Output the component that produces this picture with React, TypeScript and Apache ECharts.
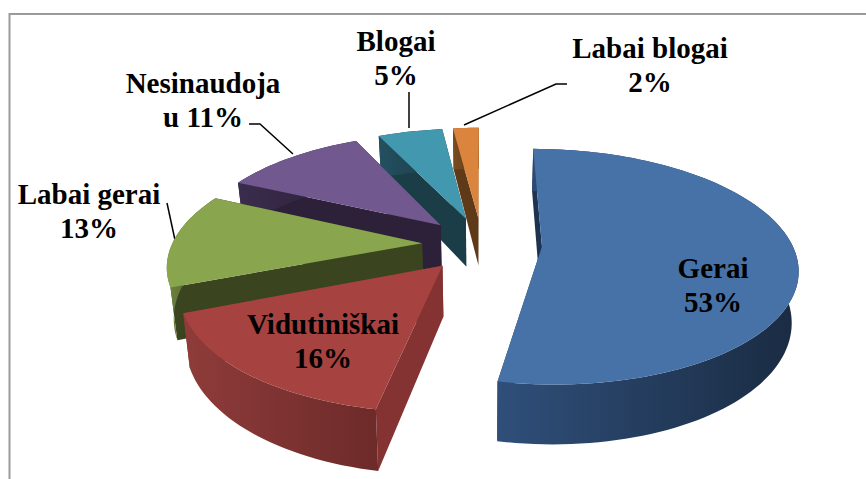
import React, { useEffect, useRef } from "react";
import * as echarts from "echarts";

const categories = ["Gerai", "Vidutiniškai", "Labai gerai", "Nesinaudoja\nu", "Blogai", "Labai blogai"];
const percentages = [53, 16, 13, 11, 5, 2];
const separators = ["\n", "\n", "\n", " ", "\n", "\n"];

const topColors = ["#4672A8", "#A64240", "#89A54E", "#71588F", "#4198AF", "#DB843D"];
const radialColors = ["#1D3350", "#843332", "#3A4520", "#2C2139", "#1B3D48", "#5E3A18"];
const wallLeftColors = ["#2F4F7A", "#8F3C3A", "#6F863E", "#3A2C4C", "#245060", "#7A4C20"];
const wallRightColors = ["#1A2B42", "#6C2A29", "#3A4520", "#2C2139", "#1B3D48", "#5E3A18"];

// Layout of the data labels: [centre x, centre y]
const labelCentres: number[][] = [
  [713, 285],
  [323, 341],
  [89, 211],
  [203, 100],
  [396, 58],
  [650, 65],
];
const leaderLines: number[][][] = [
  [[409, 92], [409, 128]],
  [[249, 124], [260, 124], [293, 154]],
  [[167, 203], [175, 240]],
  [[567, 84], [556, 84], [464, 125]],
];

const CX = 482, CY = 244, RX = 250, RY = 113.5, PERSP = 0.17, DEPTH = 49.5, EXPLODE = 0.24, BOTTOM_SHRINK = 0.022;

function project(x: number, z: number, h: number) {
  const w = 1 - PERSP * z;
  return [CX + ((x * RX) / w) * (1 - BOTTOM_SHRINK * h), CY + (z * RY) / w + (h * DEPTH) / w];
}

function renderSlice(params: any, api: any) {
  const idx = api.value(0);
  const share = api.value(1);
  const before = api.value(2);
  const a0 = (before / 100) * Math.PI * 2;
  const a1 = ((before + share) / 100) * Math.PI * 2;
  const mid = (a0 + a1) / 2;
  const ox = Math.sin(mid) * EXPLODE;
  const oz = -Math.cos(mid) * EXPLODE;
  const steps = Math.max(6, Math.round(share * 2));
  const arc = (h: number) => {
    const pts: number[][] = [];
    for (let i = 0; i <= steps; i++) {
      const a = a0 + ((a1 - a0) * i) / steps;
      pts.push(project(ox + Math.sin(a), oz - Math.cos(a), h));
    }
    return pts;
  };
  const top = arc(0);
  const bottom = arc(1);
  const apexTop = project(ox, oz, 0);
  const apexBottom = project(ox, oz, 1);
  const wallFill = new echarts.graphic.LinearGradient(0, 0, 1, 0, [
    { offset: 0, color: wallLeftColors[idx] },
    { offset: 1, color: wallRightColors[idx] },
  ]);
  const poly = (points: number[][], fill: any) => ({
    type: "polygon",
    shape: { points },
    style: { fill, stroke: "none" },
  });
  return {
    type: "group",
    children: [
      poly([apexTop, top[0], bottom[0], apexBottom], radialColors[idx]),
      poly([apexTop, top[steps], bottom[steps], apexBottom], radialColors[idx]),
      poly([...top, ...bottom.slice().reverse()], wallFill),
      poly([apexTop, ...top], topColors[idx]),
    ],
  };
}

export default function App() {
  const ref = useRef<HTMLDivElement>(null);
  useEffect(() => {
    const chart = echarts.init(ref.current!, undefined, { renderer: "svg" });
    let running = 0;
    const rows = percentages.map((p, i) => {
      const row = [i, p, running];
      running += p;
      return row;
    });
    chart.setOption({
      animation: false,
      backgroundColor: "#ffffff",
      series: [
        {
          type: "custom",
          coordinateSystem: "none",
          renderItem: renderSlice,
          data: rows.slice().reverse(),
          silent: true,
        },
      ],
      graphic: [
        {
          type: "rect",
          z: -1,
          shape: { x: 9.5, y: 14, width: 880, height: 500 },
          style: { fill: "none", stroke: "#9a9a9a", lineWidth: 2 },
        },
        ...leaderLines.map((points) => ({
          type: "polyline",
          shape: { points },
          style: { fill: "none", stroke: "#000000", lineWidth: 1.5 },
        })),
        ...categories.map((c, i) => ({
          type: "text",
          z: 10,
          x: labelCentres[i][0],
          y: labelCentres[i][1],
          style: {
            text: `${c}${separators[i]}${percentages[i]}%`,
            align: "center",
            verticalAlign: "middle",
            lineHeight: 34,
            fill: "#000000",
            font: 'bold 29px "Liberation Serif"',
          },
        })),
      ],
    });
    return () => chart.dispose();
  }, []);
  return <div ref={ref} style={{ position: "fixed", left: 0, top: 0, width: 866, height: 479 }} />;
}
